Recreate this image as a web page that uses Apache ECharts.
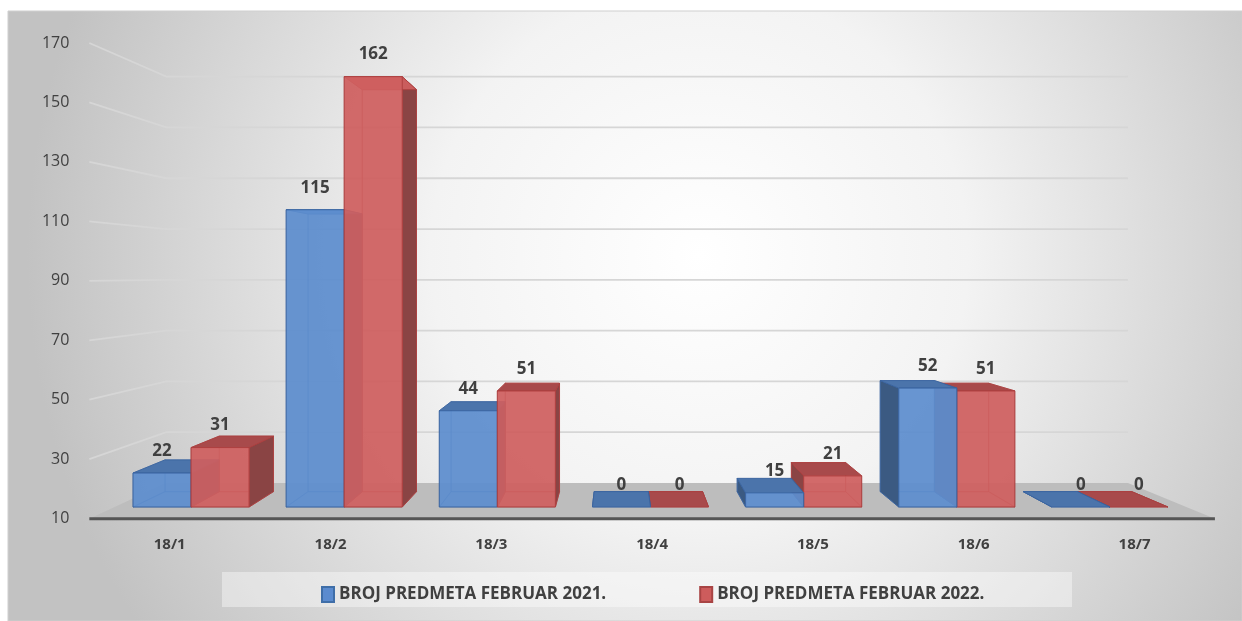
<!DOCTYPE html>
<html>
<head>
<meta charset="utf-8">
<script src="https://cdn.jsdelivr.net/npm/echarts@6/dist/echarts.min.js"></script>
<style>
  html, body { margin: 0; padding: 0; background: #fff; }
  #chart { width: 1242px; height: 621px; }
</style>
</head>
<body>
<div id="chart"></div>
<script>
// podaci
const categories = ['18/1', '18/2', '18/3', '18/4', '18/5', '18/6', '18/7'];
const broj2021 = [22, 115, 44, 0, 15, 52, 0];
const broj2022 = [31, 162, 51, 0, 21, 51, 0];
const yTicks = [10, 30, 50, 70, 90, 110, 130, 150, 170];
const seriesNames = ['BROJ PREDMETA FEBRUAR 2021.', 'BROJ PREDMETA FEBRUAR 2022.'];

const Y_MIN = 10, Y_MAX = 170, Y_STEP = 20;

// perspektiva (tačka nestajanja i dubine ravni)
const VP = [618, 274];
const S_BACK = 0.934;   // zadnja strana stubića
const S_FRONT = 1.05;   // prednja ivica poda
const S_WALL = 0.897;   // zadnji zid
const BAR_RATIO = 0.379;

// prednja ravan stubića
const FRONT = { left: 114.5, right: 1186.5, top: 54, bottom: 507 };

function proj(p, s) {
  return [VP[0] + s * (p[0] - VP[0]), VP[1] + s * (p[1] - VP[1])];
}

const labTL = proj([FRONT.left, FRONT.top], S_FRONT);
const labBR = proj([FRONT.right, FRONT.bottom], S_FRONT);

const FONT = '"Open Sans", "Liberation Sans", sans-serif';

const palettes = [
  { front: 'rgba(93,141,206,0.93)', top: '#4b74ab', side: '#3b5a82', edge: 'rgba(58,100,160,0.9)', inner: 'rgba(50,90,150,0.45)' },
  { front: 'rgba(207,95,95,0.93)', top: '#a84a4b', side: '#8a4444', edge: 'rgba(172,62,62,0.9)', inner: 'rgba(150,50,50,0.45)' }
];

function poly(points, style, z2) {
  return { type: 'polygon', shape: { points: points }, style: style, z2: z2 };
}

function barRenderer(k) {
  const pal = palettes[k];
  return function (params, api) {
    const cat = api.value(0);
    const raw = api.value(1);
    const v = Math.max(raw, Y_MIN);
    const base = api.coord([cat, Y_MIN]);
    const top = api.coord([cat, v]);
    const band = api.size([1, 0])[0];
    const w = band * BAR_RATIO;
    const x0 = base[0] + (k === 0 ? -w : 0);
    const x1 = x0 + w;
    const yT = top[1], yB = base[1];

    const fTL = [x0, yT], fTR = [x1, yT], fBR = [x1, yB], fBL = [x0, yB];
    const bTL = proj(fTL, S_BACK), bTR = proj(fTR, S_BACK);
    const bBR = proj(fBR, S_BACK), bBL = proj(fBL, S_BACK);

    const cx = (x0 + x1) / 2;
    const rank = Math.round(2000 - Math.abs(cx - VP[0])) * 10;
    const edge = { stroke: pal.edge, lineWidth: 1 };
    const inner = { fill: 'none', stroke: pal.inner, lineWidth: 1 };

    const children = [];
    // zadnje ivice (vide se kroz providan stubić)
    children.push(poly([bTL, bTR, bBR, bBL], inner, rank));
    children.push(poly([fBL, fBR, bBR, bBL], inner, rank + 1));
    // bočne strane
    const leftVisible = x0 > VP[0];
    const rightVisible = x1 < VP[0];
    children.push(poly([fTL, bTL, bBL, fBL],
      leftVisible ? Object.assign({ fill: pal.side }, edge) : inner, rank + 2));
    children.push(poly([fTR, bTR, bBR, fBR],
      rightVisible ? Object.assign({ fill: pal.side }, edge) : inner, rank + 2));
    // gornja strana
    const topFill = yT > VP[1] ? pal.top : pal.front;
    children.push(poly([fTL, fTR, bTR, bTL], Object.assign({ fill: topFill }, edge), rank + 3));
    // prednja strana
    if (yB - yT > 0.5) {
      children.push(poly([fTL, fTR, fBR, fBL], Object.assign({ fill: pal.front }, edge), rank + 4));
    }
    // vrijednost
    children.push({
      type: 'text',
      z2: 100000,
      style: {
        text: String(raw), x: cx, y: yT - 22,
        align: 'center', verticalAlign: 'middle',
        fill: '#404040', fontSize: 17, fontWeight: 'bold', fontFamily: FONT
      }
    });
    return { type: 'group', children: children };
  };
}

function renderWall(params, api) {
  const v = api.value(1);
  const band = api.size([1, 0])[0];
  const pl = api.coord([0, v]);
  const pr = api.coord([categories.length - 1, v]);
  const L = [pl[0] - band / 2, pl[1]];
  const R = [pr[0] + band / 2, pr[1]];
  const children = [];
  if (v === Y_MIN) {
    // pod
    const fl = proj(L, S_FRONT), fr = proj(R, S_FRONT);
    children.push(poly([fl, fr, proj(R, S_WALL), proj(L, S_WALL)], { fill: '#bdbdbd' }, 0));
    children.push({
      type: 'line', z2: 1,
      shape: { x1: fl[0], y1: fl[1], x2: fr[0], y2: fr[1] },
      style: { stroke: '#555', lineWidth: 3 }
    });
  } else {
    const a = proj(L, S_FRONT), b = proj(L, S_WALL), c = proj(R, S_WALL);
    children.push({
      type: 'polyline', z2: 0,
      shape: { points: [a, b, c] },
      style: { stroke: '#d6d6d6', lineWidth: 1.8, fill: 'none' }
    });
  }
  return { type: 'group', children: children };
}

const chart = echarts.init(document.getElementById('chart'));

const option = {
  animation: false,
  graphic: [
    {
      type: 'rect', z: -10, silent: true,
      shape: { x: 8, y: 11, width: 1234, height: 610 },
      style: {
        fill: new echarts.graphic.RadialGradient(0.56, 0.4, 1.1, [
          { offset: 0, color: '#ffffff' },
          { offset: 0.4, color: '#f3f3f3' },
          { offset: 1, color: '#c2c2c2' }
        ]),
        stroke: '#cfcfcf', lineWidth: 1
      }
    },
    {
      type: 'rect', z: -9, silent: true,
      shape: { x: 222, y: 572, width: 850, height: 35 },
      style: { fill: 'rgba(255,255,255,0.4)' }
    }
  ],
  legend: {
    data: seriesNames,
    left: 316,
    top: 581,
    icon: 'rect',
    itemWidth: 12,
    itemHeight: 15,
    itemGap: 93,
    textStyle: { color: '#404040', fontSize: 17, fontWeight: 'bold', fontFamily: FONT }
  },
  grid: [
    { left: FRONT.left, top: FRONT.top, width: FRONT.right - FRONT.left, height: FRONT.bottom - FRONT.top },
    { left: labTL[0], top: labTL[1], width: labBR[0] - labTL[0], height: labBR[1] - labTL[1] }
  ],
  xAxis: [
    { type: 'category', gridIndex: 0, data: categories, show: false },
    {
      type: 'category', gridIndex: 1, data: categories,
      axisLine: { show: false }, axisTick: { show: false }, splitLine: { show: false },
      axisLabel: { margin: 19, color: '#404040', fontSize: 15, fontWeight: 'bold', fontFamily: FONT }
    }
  ],
  yAxis: [
    { type: 'value', gridIndex: 0, min: Y_MIN, max: Y_MAX, interval: Y_STEP, show: false },
    {
      type: 'value', gridIndex: 1, min: Y_MIN, max: Y_MAX, interval: Y_STEP,
      axisLine: { show: false }, axisTick: { show: false }, splitLine: { show: false },
      axisLabel: { margin: 20, color: '#404040', fontSize: 16, fontFamily: FONT }
    }
  ],
  series: [
    {
      type: 'custom', z: 1, clip: false, silent: true,
      xAxisIndex: 0, yAxisIndex: 0,
      renderItem: renderWall,
      data: yTicks.map(v => [0, v])
    },
    {
      name: seriesNames[0], type: 'custom', z: 2, clip: false,
      xAxisIndex: 0, yAxisIndex: 0,
      itemStyle: { color: '#5b8bcf', borderColor: '#3f6ea8', borderWidth: 1 },
      renderItem: barRenderer(0),
      data: broj2021.map((v, i) => [i, v])
    },
    {
      name: seriesNames[1], type: 'custom', z: 2, clip: false,
      xAxisIndex: 0, yAxisIndex: 0,
      itemStyle: { color: '#cd5c5c', borderColor: '#a84444', borderWidth: 1 },
      renderItem: barRenderer(1),
      data: broj2022.map((v, i) => [i, v])
    }
  ]
};

chart.setOption(option);
</script>
</body>
</html>
